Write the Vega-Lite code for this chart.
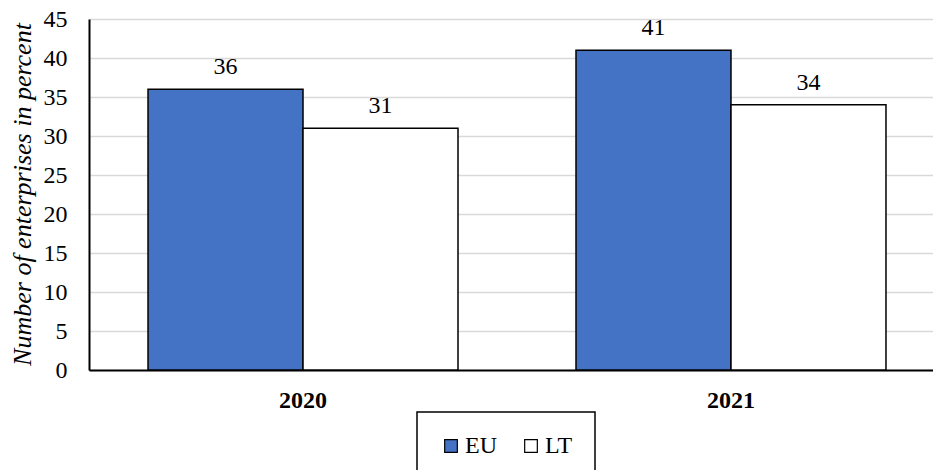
{
  "$schema": "https://vega.github.io/schema/vega-lite/v6.json",
  "width": 856,
  "height": 351,
  "autosize": "none",
  "padding": {"left": 89, "top": 19, "right": 0, "bottom": 100},
  "background": "white",
  "config": {
    "view": {"stroke": null},
    "font": "Liberation Serif"
  },
  "data": {
    "values": [
      {"year": "2020", "region": "EU", "value": 36},
      {"year": "2020", "region": "LT", "value": 31},
      {"year": "2021", "region": "EU", "value": 41},
      {"year": "2021", "region": "LT", "value": 34}
    ]
  },
  "encoding": {
    "x": {
      "field": "year",
      "type": "nominal",
      "scale": {"paddingInner": 0.2757, "paddingOuter": 0.1379},
      "axis": {
        "title": null,
        "labelAngle": 0,
        "labelFont": "Liberation Serif",
        "labelFontSize": 24,
        "labelFontWeight": "bold",
        "labelColor": "black",
        "labelPadding": 18,
        "ticks": false,
        "domainColor": "black",
        "domainWidth": 2
      }
    },
    "xOffset": {
      "field": "region",
      "type": "nominal",
      "sort": ["EU", "LT"],
      "scale": {"paddingInner": 0, "paddingOuter": 0}
    },
    "y": {
      "field": "value",
      "type": "quantitative",
      "scale": {"domain": [0, 45], "nice": false},
      "axis": {
        "values": [0, 5, 10, 15, 20, 25, 30, 35, 40, 45],
        "title": "Number of enterprises in percent",
        "titleFont": "Liberation Serif",
        "titleFontSize": 26,
        "titleFontStyle": "italic",
        "titleFontWeight": "normal",
        "titleColor": "black",
        "titleX": -67,
        "titleY": 175,
        "titleAngle": -90,
        "titleAlign": "center",
        "titleBaseline": "middle",
        "labelFont": "Liberation Serif",
        "labelFontSize": 24,
        "labelColor": "black",
        "labelPadding": 22,
        "ticks": false,
        "domainColor": "black",
        "domainWidth": 2,
        "gridColor": "#d9d9d9",
        "gridWidth": 1.5
      }
    }
  },
  "layer": [
    {
      "mark": {"type": "bar", "stroke": "black", "strokeWidth": 1.5},
      "encoding": {
        "color": {
          "field": "region",
          "type": "nominal",
          "scale": {"domain": ["EU", "LT"], "range": ["#4472C4", "#ffffff"]},
          "legend": {
            "title": null,
            "orient": "none",
            "legendX": 328,
            "legendY": 393,
            "direction": "horizontal",
            "strokeColor": "black",
            "padding": 22,
            "symbolType": "square",
            "symbolSize": 160,
            "symbolStrokeColor": "black",
            "symbolStrokeWidth": 1.2,
            "labelFont": "Liberation Serif",
            "labelFontSize": 24,
            "labelColor": "black",
            "labelOffset": 2,
            "columnPadding": 22,
            "encode": {"legend": {"update": {"strokeWidth": {"value": 1.5}}}}
          }
        }
      }
    },
    {
      "mark": {
        "type": "text",
        "baseline": "alphabetic",
        "dy": -15,
        "font": "Liberation Serif",
        "fontSize": 24,
        "color": "black"
      },
      "encoding": {
        "text": {"field": "value", "type": "quantitative"}
      }
    }
  ]
}
